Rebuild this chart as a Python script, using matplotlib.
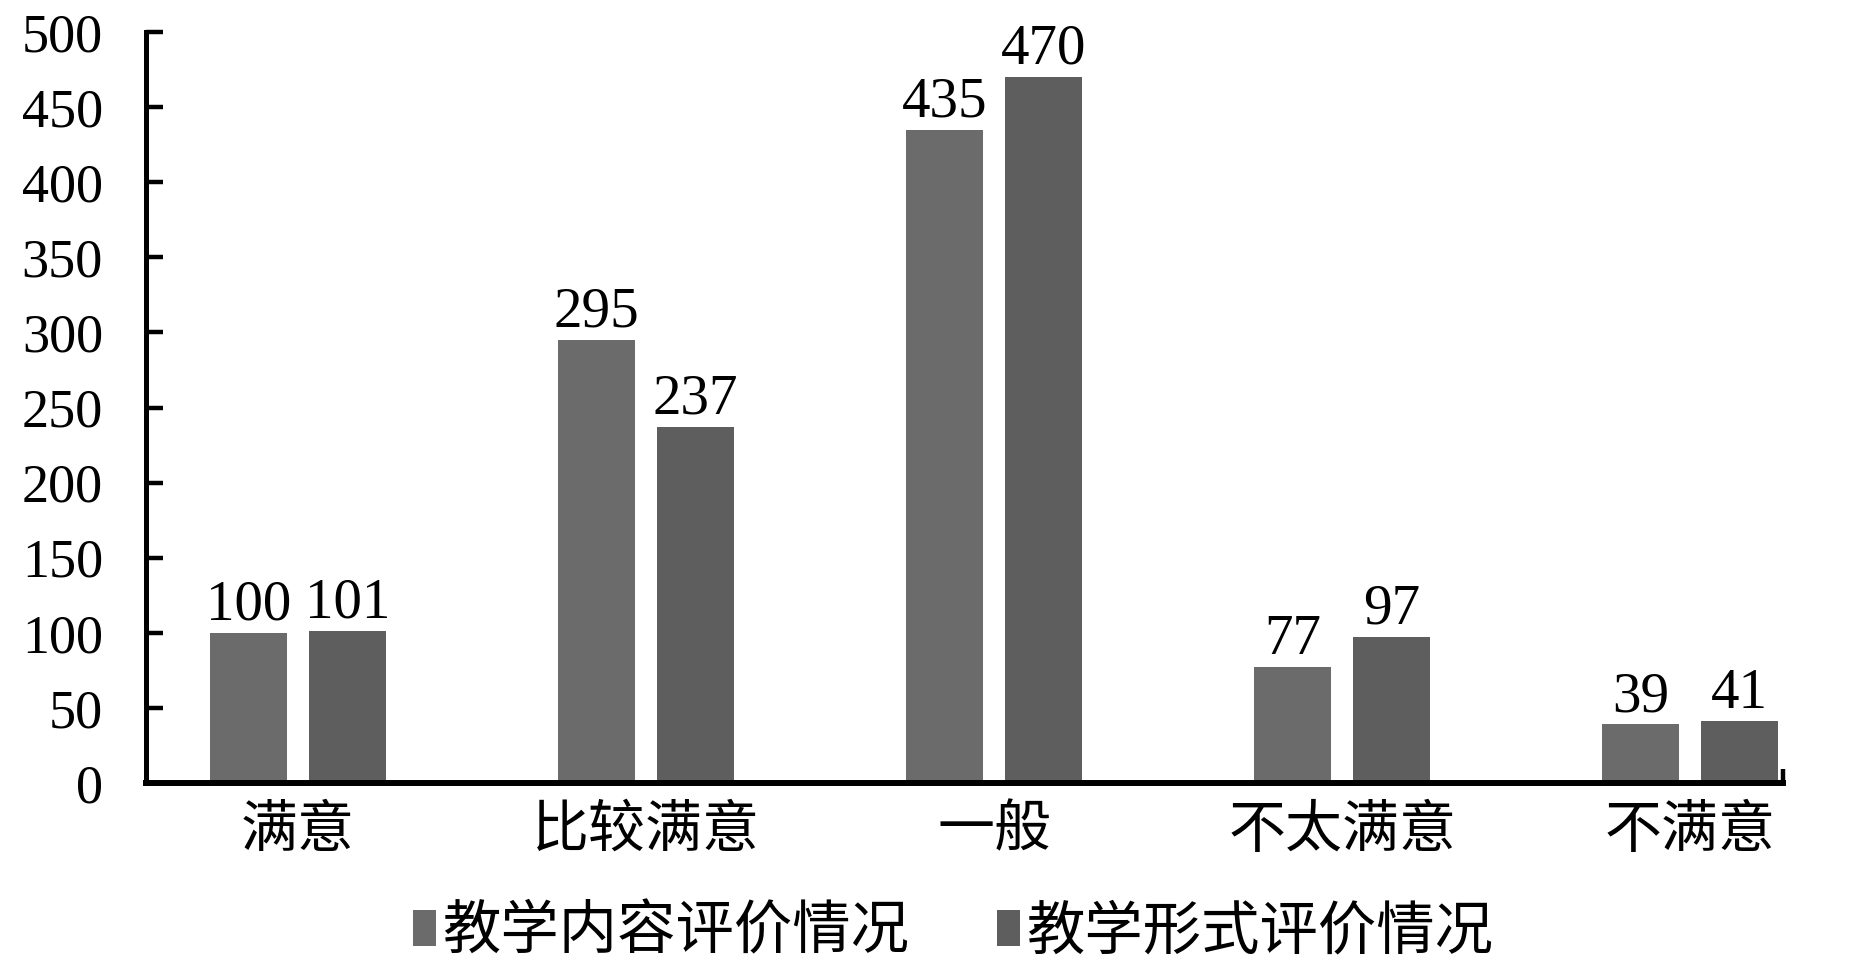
import matplotlib
matplotlib.use("Agg")
import matplotlib.pyplot as plt
import numpy as np

# --- Data ---
categories = ["满意", "比较满意", "一般", "不太满意", "不满意"]
content_eval = [100, 295, 435, 77, 39]   # 教学内容评价情况
form_eval = [101, 237, 470, 97, 41]      # 教学形式评价情况
series_names = ["教学内容评价情况", "教学形式评价情况"]
yticks = [0, 50, 100, 150, 200, 250, 300, 350, 400, 450, 500]

CJK = ["Noto Sans CJK SC", "DejaVu Sans"]
SERIF = "Liberation Serif"
COLORS = ["#6b6b6b", "#5e5e5e"]

fig = plt.figure(figsize=(18.76, 9.69), dpi=100)
ax = fig.add_axes([146 / 1876, 1 - 783 / 969, (1783 - 146) / 1876, (783 - 32) / 969])

x = np.arange(len(categories))
width = 0.22
offset = 0.142

b1 = ax.bar(x - offset, content_eval, width, color=COLORS[0], label=series_names[0], zorder=2)
b2 = ax.bar(x + offset, form_eval, width, color=COLORS[1], label=series_names[1], zorder=2)

for bars in (b1, b2):
    ax.bar_label(bars, padding=1, fontsize=41, fontfamily=SERIF, color="black")

x_left, x_right = -0.437, 4.267
ax.set_xlim(x_left, x_right)
ax.set_ylim(0, 500)

# Spines
for side in ("top", "right"):
    ax.spines[side].set_visible(False)
ax.spines["left"].set_linewidth(3.6)
ax.spines["bottom"].set_linewidth(4.3)

# Y ticks (inward)
ax.set_yticks(yticks)
ax.set_yticklabels([str(v) for v in yticks], fontsize=39, fontfamily=SERIF)
ax.tick_params(axis="y", direction="in", length=12, width=3.2, pad=31)

# X: category labels, no ticks, plus a single inward tick at axis end
ax.set_xticks(x)
ax.set_xticklabels(categories, fontsize=41, fontfamily=CJK)
ax.tick_params(axis="x", which="major", length=0, pad=13)
ax.set_xticks([x_right], minor=True)
ax.tick_params(axis="x", which="minor", direction="in", length=10, width=3.2)

# Legend
fig.legend(
    loc="center", bbox_to_anchor=(0.508, 0.038), ncol=2, frameon=False,
    prop={"family": CJK, "size": 42},
    handlelength=0.4, handleheight=0.55, handletextpad=0.1, columnspacing=1.5,
)

fig.savefig("out.png", dpi=100, facecolor="white")
